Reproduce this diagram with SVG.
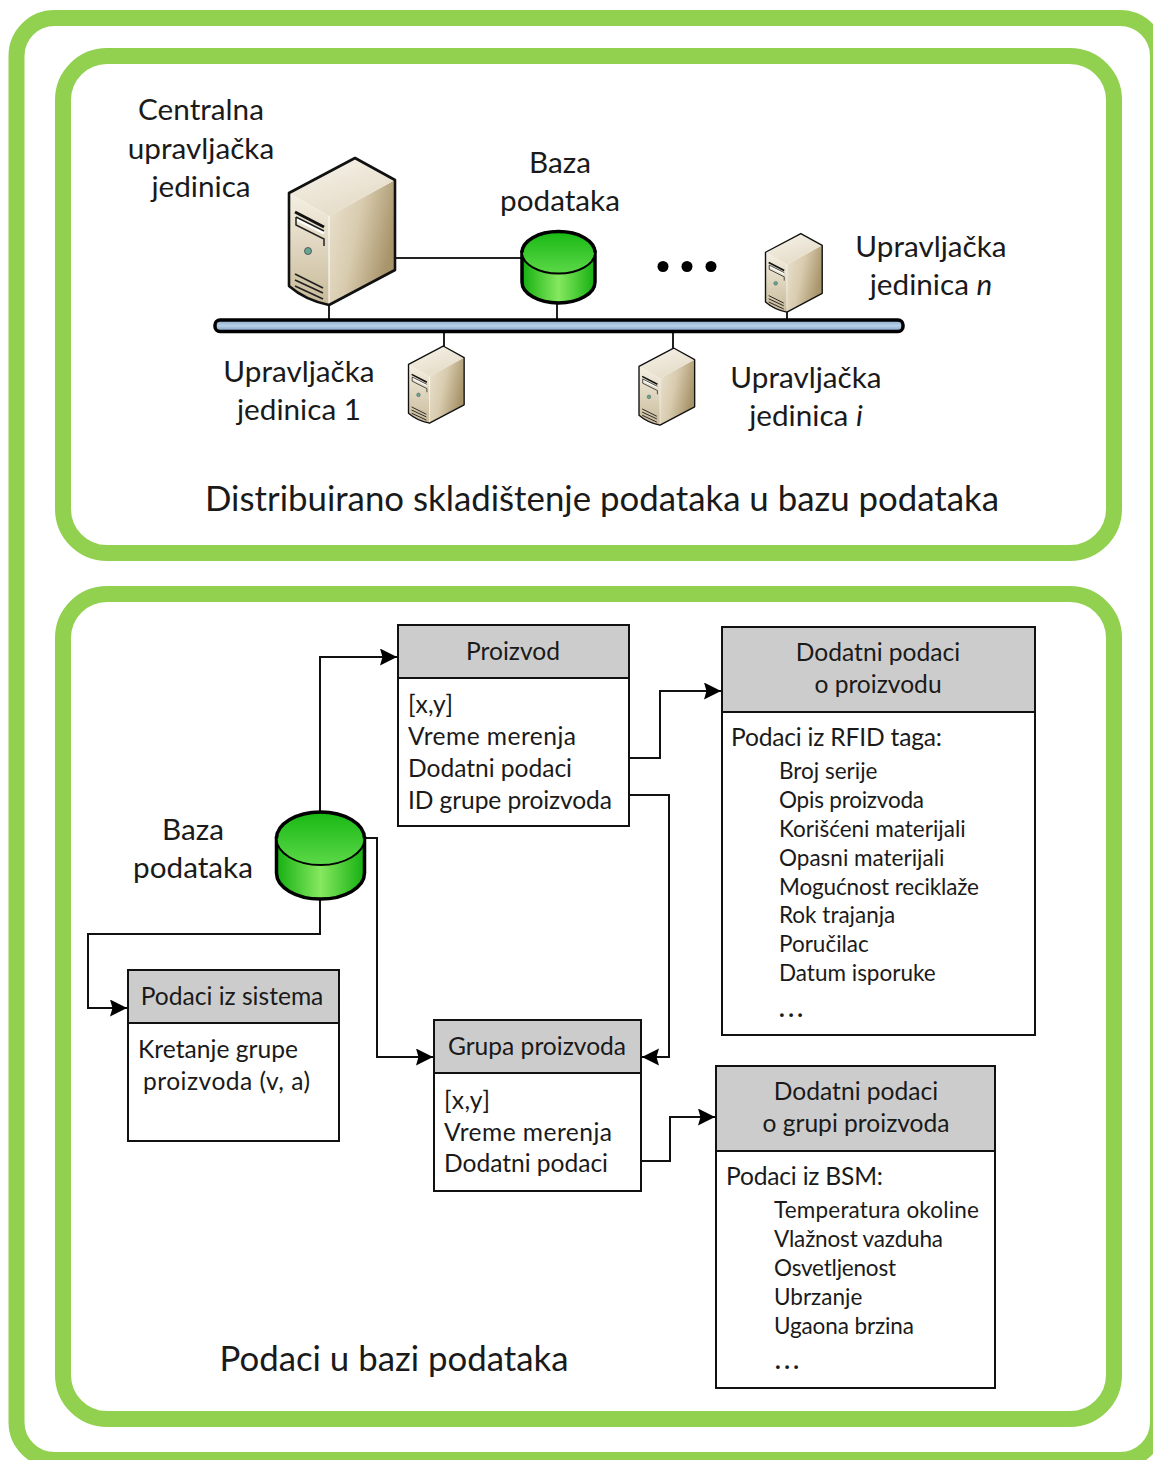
<svg xmlns="http://www.w3.org/2000/svg" xmlns:xlink="http://www.w3.org/1999/xlink" width="1153" height="1460" viewBox="0 0 1153 1460">
<style>
text{font-family:"Lato","Carlito","Liberation Sans",sans-serif;fill:#1a1a1a}
.a{font-size:29.7px}.m{text-anchor:middle}
.b{font-size:24.6px}.c{font-size:22.5px}.t{font-size:34.8px}
.d{font-size:24px;font-weight:700}
.frame{fill:none;stroke:#92d050;stroke-width:16}
.hd{fill:#cccccc;stroke:#111;stroke-width:2}
.bd{fill:#fff;stroke:#111;stroke-width:2}
.cn{fill:none;stroke:#111;stroke-width:2}
.ln{stroke:#222;stroke-width:2;fill:none}
</style>
<defs>
<marker id="ar" markerUnits="userSpaceOnUse" markerWidth="18" markerHeight="18" refX="17" refY="8.500" orient="auto"><path d="M0 0L17 8.500L0 17L2.500 8.500Z" fill="#000"/></marker>
<linearGradient id="srvTop" x1="0" y1="0" x2="0.6" y2="1"><stop offset="0" stop-color="#f8f5ec"/><stop offset="1" stop-color="#e4dac6"/></linearGradient>
<linearGradient id="srvSide" x1="0" y1="0" x2="1" y2="0.4"><stop offset="0" stop-color="#ebe3d1"/><stop offset="0.5" stop-color="#d8cbae"/><stop offset="1" stop-color="#a8946a"/></linearGradient>
<linearGradient id="srvFront" x1="0" y1="0" x2="0" y2="1"><stop offset="0" stop-color="#f5f0e3"/><stop offset="1" stop-color="#c8b998"/></linearGradient>
<linearGradient id="cylB" x1="0" y1="0" x2="1" y2="0"><stop offset="0" stop-color="#14b010"/><stop offset="0.5" stop-color="#86e860"/><stop offset="1" stop-color="#14b010"/></linearGradient>
<linearGradient id="cylT" x1="0" y1="0" x2="0" y2="1"><stop offset="0" stop-color="#18b814"/><stop offset="1" stop-color="#5cd848"/></linearGradient>
<linearGradient id="bus" x1="0" y1="0" x2="0" y2="1"><stop offset="0" stop-color="#8aa8c8"/><stop offset="0.5" stop-color="#b8d0e8"/><stop offset="1" stop-color="#7c9cc0"/></linearGradient>
<symbol id="srv" viewBox="0 0 108 150" width="108" height="150" overflow="visible">
<path d="M40 59L106 23V113L40 148Z" fill="url(#srvSide)"/>
<path d="M0 36L66 1L106 23L40 59Z" fill="url(#srvTop)"/>
<path d="M0 36L40 59V148Q16 143 0 129Z" fill="url(#srvFront)"/>
<path d="M40 59V148" stroke="#fff" stroke-width="1" fill="none"/>
<path d="M6 55L35 70" stroke="#111" stroke-width="3" fill="none"/>
<path d="M7 62L35 76" stroke="#fff" stroke-width="3" fill="none"/>
<path d="M7 60V68L35 82V89M7 60L35 74" stroke="#222" stroke-width="1.500" fill="none"/>
<circle cx="19" cy="94" r="3.500" fill="#62a98c" stroke="#445" stroke-width="0.800"/>
<path d="M6 117L34 131M6 123L34 136M6 129L34 142" stroke="#222" stroke-width="1.800" fill="none"/>
<path d="M0 36L66 1L106 23V113L40 148Q16 143 0 129Z" fill="none" stroke="#111" stroke-width="2.600" stroke-linejoin="round"/>
</symbol>
</defs>

<g id="frames">
<rect class="frame" x="16.500" y="18" width="1141.500" height="1442" rx="38"/>
<rect class="frame" x="63" y="56" width="1051" height="497" rx="44"/>
<rect class="frame" x="63" y="594" width="1051" height="825" rx="44"/>
</g>

<g id="connectors">
<path class="ln" d="M396 258H522M329 305V320M557 303V320M444 332V346M673 332V348M787 308V320"/>
<path class="cn" d="M320 811V657H397" marker-end="url(#ar)"/>
<path class="cn" d="M365 838H377V1057H433" marker-end="url(#ar)"/>
<path class="cn" d="M320 900V934H88V1008H127" marker-end="url(#ar)"/>
<path class="cn" d="M630 758H660V691H721" marker-end="url(#ar)"/>
<path class="cn" d="M630 795H669V1057H642" marker-end="url(#ar)"/>
<path class="cn" d="M642 1161H670V1117H715" marker-end="url(#ar)"/>
</g>

<g id="bus-line"><rect x="215" y="320" width="688" height="11.500" rx="5" fill="url(#bus)" stroke="#000" stroke-width="3.500"/></g>

<g id="server-central"><use xlink:href="#srv" href="#srv" x="289" y="157"/></g>
<g id="server-1"><use xlink:href="#srv" href="#srv" transform="translate(408.500 345.500) scale(0.525)"/></g>
<g id="server-i"><use xlink:href="#srv" href="#srv" transform="translate(639 347.500) scale(0.525)"/></g>
<g id="server-n"><use xlink:href="#srv" href="#srv" transform="translate(765.500 233) scale(0.535)"/></g>

<g id="db-top">
<path d="M522 252V282A36.500 21 0 0 0 595 282V252Z" fill="url(#cylB)" stroke="#000" stroke-width="3.500"/>
<ellipse cx="558.500" cy="252.500" rx="36.500" ry="21" fill="url(#cylT)" stroke="#000" stroke-width="2"/>
<path d="M522 252.500A36.500 21 0 0 1 595 252.500" fill="none" stroke="#000" stroke-width="3.500"/>
</g>
<g id="db-bottom">
<path d="M276.500 838V873A44 26 0 0 0 364.500 873V838Z" fill="url(#cylB)" stroke="#000" stroke-width="3.500"/>
<ellipse cx="320.500" cy="838.500" rx="44" ry="26.500" fill="url(#cylT)" stroke="#000" stroke-width="2"/>
<path d="M276.500 838.500A44 26.500 0 0 1 364.500 838.500" fill="none" stroke="#000" stroke-width="3.500"/>
</g>

<g id="dots"><circle cx="663" cy="266.500" r="5.500"/><circle cx="687" cy="266.500" r="5.500"/><circle cx="711" cy="266.500" r="5.500"/></g>

<g id="labels-top">
<text class="a m" x="201" y="119.500">Centralna</text>
<text class="a m" x="201" y="158.500">upravljačka</text>
<text class="a m" x="201" y="196.500">jedinica</text>
<text class="a m" x="560" y="172.500">Baza</text>
<text class="a m" x="560" y="210.500">podataka</text>
<text class="a m" x="931" y="257">Upravljačka</text>
<text class="a m" x="931" y="295">jedinica <tspan font-style="italic">n</tspan></text>
<text class="a m" x="299" y="382">Upravljačka</text>
<text class="a m" x="299" y="420">jedinica 1</text>
<text class="a m" x="806" y="388">Upravljačka</text>
<text class="a m" x="806" y="426">jedinica <tspan font-style="italic">i</tspan></text>
<text class="t m" x="602" y="510.500">Distribuirano skladištenje podataka u bazu podataka</text>
<text class="a m" x="193" y="840">Baza</text>
<text class="a m" x="193" y="878">podataka</text>
<text class="t m" x="394" y="1370.500">Podaci u bazi podataka</text>
</g>

<g id="box-proizvod">
<rect class="bd" x="398" y="625" width="231" height="201"/>
<rect class="hd" x="398" y="625" width="231" height="53"/>
<text class="b m" x="513" y="660">Proizvod</text>
<text class="b" x="408" y="713" textLength="45">[x,y]</text>
<text class="b" x="408" y="745" textLength="168">Vreme merenja</text>
<text class="b" x="408" y="777" textLength="164">Dodatni podaci</text>
<text class="b" x="408" y="809" textLength="204">ID grupe proizvoda</text>
</g>

<g id="box-dodatni-proizvod">
<rect class="bd" x="722" y="627" width="313" height="408"/>
<rect class="hd" x="722" y="627" width="313" height="85"/>
<text class="b m" x="878" y="661">Dodatni podaci</text>
<text class="b m" x="878" y="693">o proizvodu</text>
<text class="b" x="731" y="746" textLength="211">Podaci iz RFID taga:</text>
<text class="c" x="779" y="778.500">Broj serije</text>
<text class="c" x="779" y="807.500" textLength="145">Opis proizvoda</text>
<text class="c" x="779" y="836.500">Korišćeni materijali</text>
<text class="c" x="779" y="865.500">Opasni materijali</text>
<text class="c" x="779" y="894.500" textLength="200">Mogućnost reciklaže</text>
<text class="c" x="779" y="923">Rok trajanja</text>
<text class="c" x="779" y="951.500">Poručilac</text>
<text class="c" x="779" y="980.500">Datum isporuke</text>
<text class="d" x="779" y="1017" textLength="24">...</text>
</g>

<g id="box-sistem">
<rect class="bd" x="128" y="970" width="211" height="171"/>
<rect class="hd" x="128" y="970" width="211" height="53"/>
<text class="b m" x="232" y="1005">Podaci iz sistema</text>
<text class="b" x="138" y="1058" textLength="160">Kretanje grupe</text>
<text class="b" x="143" y="1090" textLength="167">proizvoda (v, a)</text>
</g>

<g id="box-grupa">
<rect class="bd" x="434" y="1020" width="207" height="171"/>
<rect class="hd" x="434" y="1020" width="207" height="53"/>
<text class="b m" x="537" y="1055">Grupa proizvoda</text>
<text class="b" x="444" y="1109" textLength="46">[x,y]</text>
<text class="b" x="444" y="1141" textLength="168">Vreme merenja</text>
<text class="b" x="444" y="1172" textLength="164">Dodatni podaci</text>
</g>

<g id="box-dodatni-grupa">
<rect class="bd" x="716" y="1066" width="279" height="322"/>
<rect class="hd" x="716" y="1066" width="279" height="85"/>
<text class="b m" x="856" y="1100">Dodatni podaci</text>
<text class="b m" x="856" y="1132">o grupi proizvoda</text>
<text class="b" x="726" y="1185" textLength="157">Podaci iz BSM:</text>
<text class="c" x="774" y="1217.500" textLength="205">Temperatura okoline</text>
<text class="c" x="774" y="1246.500" textLength="169">Vlažnost vazduha</text>
<text class="c" x="774" y="1275.500" textLength="122">Osvetljenost</text>
<text class="c" x="774" y="1304.500">Ubrzanje</text>
<text class="c" x="774" y="1333.500" textLength="140">Ugaona brzina</text>
<text class="d" x="775" y="1369" textLength="24">...</text>
</g>
</svg>
